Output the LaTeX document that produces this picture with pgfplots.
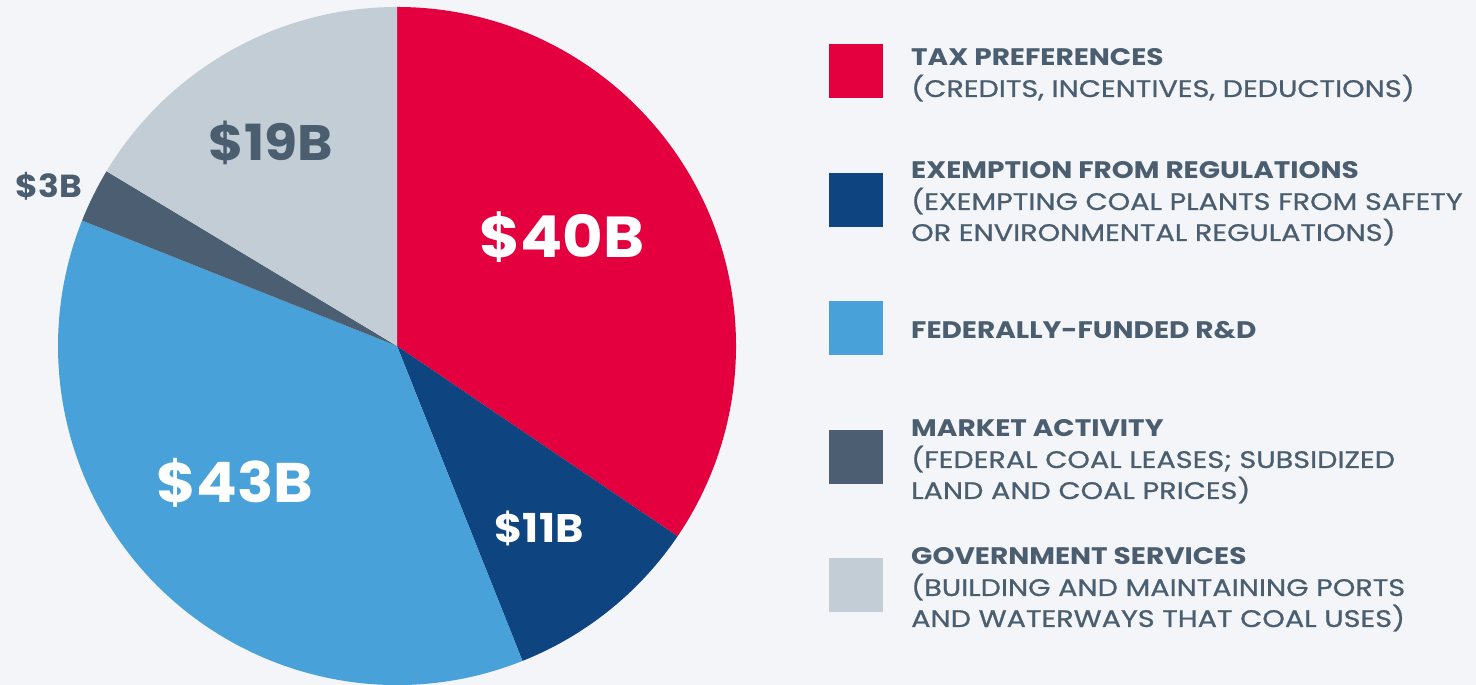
\documentclass[border=0pt]{standalone}
\usepackage{pgfplots}
\usepackage{pgfplotstable}
\pgfplotsset{compat=1.18}
\usepackage{fontspec}
\setmainfont{Poppins}
\newfontfamily\hdfont{Poppins}[FakeStretch=1.17]
\newfontfamily\pifont{Poppins}[FakeStretch=1.08]
\newfontfamily\sbfont{Poppins}[FakeStretch=1.2, FakeBold=0.8]

\definecolor{bg}{HTML}{F3F5F9}
\definecolor{txt}{HTML}{4B5E70}
\definecolor{cRed}{HTML}{E4003F}
\definecolor{cNavy}{HTML}{0E4580}
\definecolor{cSky}{HTML}{48A1D9}
\definecolor{cSlate}{HTML}{4C5F72}
\definecolor{cGrey}{HTML}{C3CDD6}

% subsidies, billions of dollars, clockwise from 12 o'clock
\pgfplotstableread{
value color
40 cRed
11 cNavy
43 cSky
3 cSlate
19 cGrey
}\piedata

\begin{document}
\begin{tikzpicture}[x=1bp,y=1bp]
\fill[bg] (0,0) rectangle (1476,685);
\useasboundingbox (0,0) rectangle (1476,685);
\begin{axis}[
    hide axis,
    scale only axis,
    clip=false,
    width=678bp, height=678bp,
    xmin=-1, xmax=1, ymin=-1, ymax=1,
    at={(397bp,339bp)}, anchor=origin,
]
\pgfplotstablegetrowsof{\piedata}
\pgfmathtruncatemacro\nrows{\pgfplotsretval-1}
\def\total{0}
\pgfplotsforeachungrouped \i in {0,...,\nrows}{%
  \pgfplotstablegetelem{\i}{value}\of\piedata
  \pgfmathsetmacro\total{\total+\pgfplotsretval}%
}
\def\acc{90}
\pgfplotsforeachungrouped \i in {0,...,\nrows}{%
  \pgfplotstablegetelem{\i}{value}\of\piedata \let\v\pgfplotsretval
  \pgfplotstablegetelem{\i}{color}\of\piedata \let\c\pgfplotsretval
  \pgfmathsetmacro\b{\acc-360*\v/\total}%
  \edef\doit{\noexpand\fill[\c] (axis cs:0,0) -- (axis cs:{cos(\acc)},{sin(\acc)})
     arc[start angle=\acc, end angle=\b, radius=339bp] -- cycle;}%
  \doit
  \let\acc\b
}
\node[anchor=base, text=white, font=\pifont\fontsize{58}{58}\selectfont\bfseries] at (axis cs:0.487,0.260) {\$40B};
\node[anchor=base, text=white, font=\pifont\fontsize{56}{56}\selectfont\bfseries] at (axis cs:-0.478,-0.463) {\$43B};
\node[anchor=base, text=white, font=\pifont\fontsize{40}{40}\selectfont\bfseries] at (axis cs:0.419,-0.581) {\$11B};
\node[anchor=base, text=txt, font=\pifont\fontsize{50}{50}\selectfont\bfseries] at (axis cs:-0.372,0.546) {\$19B};
\node[anchor=base, text=txt, font=\pifont\fontsize{32}{32}\selectfont\bfseries] at (axis cs:-1.027,0.437) {\$3B};
\end{axis}

% legend
\fill[cRed]   (829,587) rectangle (883,641);
\fill[cNavy]  (829,458) rectangle (883,512);
\fill[cSky]   (829,330) rectangle (883,384);
\fill[cSlate] (829,201) rectangle (883,255);
\fill[cGrey]  (829,73)  rectangle (883,127);
\tikzset{hd/.style={anchor=base west, inner sep=0pt, text=txt, font=\hdfont\fontsize{24}{24}\selectfont\bfseries},
         sb/.style={anchor=base west, inner sep=0pt, text=txt, font=\sbfont\fontsize{24}{24}\selectfont}}
\node[hd] at (911,619) {TAX PREFERENCES};
\node[sb] at (911,588) {(CREDITS, INCENTIVES, DEDUCTIONS)};
\node[hd] at (911,506) {EXEMPTION FROM REGULATIONS};
\node[sb] at (911,475) {(EXEMPTING COAL PLANTS FROM SAFETY};
\node[sb] at (911,444) {OR ENVIRONMENTAL REGULATIONS)};
\node[hd] at (911,346) {FEDERALLY-FUNDED R\&D};
\node[hd] at (911,248) {MARKET ACTIVITY};
\node[sb] at (911,217) {(FEDERAL COAL LEASES; SUBSIDIZED};
\node[sb] at (911,186) {LAND AND COAL PRICES)};
\node[hd] at (911,120) {GOVERNMENT SERVICES};
\node[sb] at (911,89)  {(BUILDING AND MAINTAINING PORTS};
\node[sb] at (911,58)  {AND WATERWAYS THAT COAL USES)};
\end{tikzpicture}
\end{document}
